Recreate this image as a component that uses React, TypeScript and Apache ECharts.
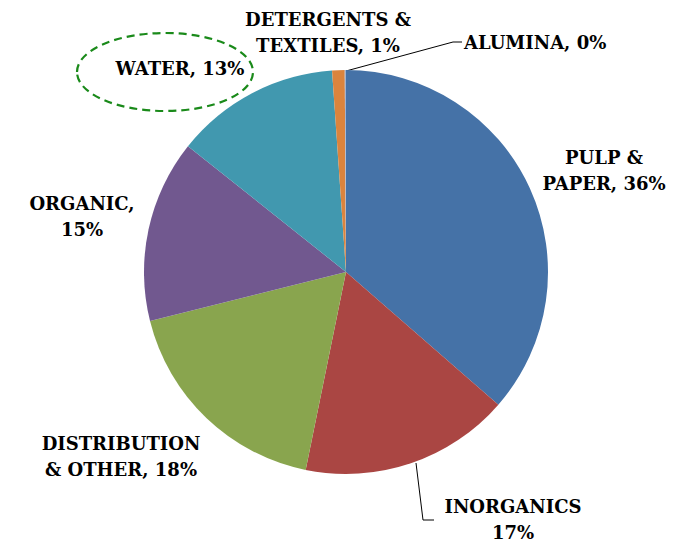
import React, { useEffect, useRef } from "react";
import * as echarts from "echarts";

const categories = ["PULP & PAPER", "INORGANICS", "DISTRIBUTION & OTHER", "ORGANIC", "WATER", "DETERGENTS & TEXTILES", "ALUMINA"];
const values = [36.4, 16.8, 17.9, 14.6, 13.2, 1.0, 0.1];
const labelTemplates = [
  "PULP &\nPAPER, {p}%",
  "INORGANICS\n{p}%",
  "DISTRIBUTION\n& OTHER, {p}%",
  "ORGANIC,\n{p}%",
  "WATER, {p}%",
  "DETERGENTS &\nTEXTILES, {p}%",
  "ALUMINA, {p}%",
];
const colors = ["#4572A7", "#AA4643", "#89A54E", "#71588F", "#4198AF", "#DB843D", "#A0B2D0"];

const FONT = "DejaVu Serif";

// label placement (x, y, align) and leader lines
const labelPos: { x: number; y: number; align: string; line?: number[][] }[] = [
  { x: 604, y: 170, align: "center" },
  { x: 513, y: 519, align: "center", line: [[416, 463], [423, 520], [434, 520]] },
  { x: 121, y: 456, align: "center" },
  { x: 82, y: 216, align: "center" },
  { x: 180, y: 68, align: "center" },
  { x: 328, y: 32, align: "center" },
  { x: 464, y: 42, align: "left", line: [[346, 71], [453, 42], [462, 42]] },
];

export default function App() {
  const ref = useRef<HTMLDivElement>(null);
  useEffect(() => {
    const chart = echarts.init(ref.current!, null, { renderer: "svg" });
    chart.setOption({
      animation: false,
      backgroundColor: "#ffffff",
      textStyle: { fontFamily: FONT },
      graphic: [
        {
          type: "ellipse",
          shape: { cx: 165, cy: 72, rx: 88, ry: 39 },
          style: { fill: "none", stroke: "#1A8A1A", lineWidth: 2.2, lineDash: [8, 5] },
          z: 10,
        },
      ],
      series: [
        {
          type: "pie",
          center: [346, 272],
          radius: 202,
          startAngle: 90,
          clockwise: true,
          avoidLabelOverlap: false,
          data: categories.map((c, i) => ({
            name: c,
            value: values[i],
            itemStyle: { color: colors[i] },
            labelLine: { show: !!labelPos[i].line },
          })),
          label: {
            show: true,
            position: "outside",
            formatter: (p: any) => labelTemplates[p.dataIndex].replace("{p}", String(Math.round(p.percent))),
            fontFamily: FONT,
            fontWeight: "bold",
            fontSize: 18,
            lineHeight: 26,
            color: "#000000",
          },
          labelLine: {
            show: true,
            lineStyle: { color: "#000000", width: 1 },
          },
          labelLayout: (params: any) => {
            const lp = labelPos[params.dataIndex];
            const res: any = { x: lp.x, y: lp.y, align: lp.align, verticalAlign: "middle" };
            if (lp.line) res.labelLinePoints = lp.line;
            return res;
          },
          emphasis: { disabled: true },
        },
      ],
    });
    return () => chart.dispose();
  }, []);
  return <div ref={ref} style={{ position: "fixed", left: 0, top: 0, width: 689, height: 543 }} />;
}
